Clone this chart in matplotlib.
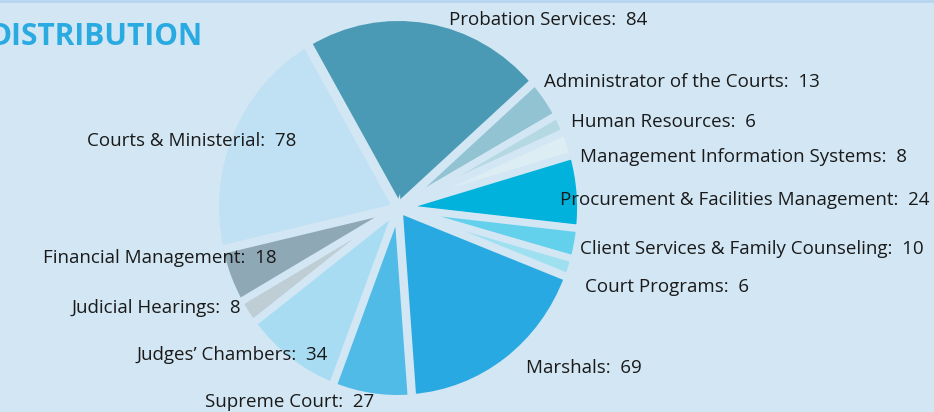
import matplotlib.pyplot as plt

departments = ["Probation Services", "Administrator of the Courts", "Human Resources",
               "Management Information Systems", "Procurement & Facilities Management",
               "Client Services & Family Counseling", "Court Programs", "Marshals",
               "Supreme Court", "Judges\u2019 Chambers", "Judicial Hearings",
               "Financial Management", "Courts & Ministerial"]
staff = [84, 13, 6, 8, 24, 10, 6, 69, 27, 34, 8, 18, 78]
colors = ["#4a9ab5", "#92c3d3", "#b5d9e3", "#dcedf3", "#00b2dc", "#63d0ec", "#9ee0f0",
          "#29a9e1", "#51bbe8", "#a7dcf3", "#bfcdd5", "#8fa8b5", "#c0e0f4"]

# label anchor positions in pixels (x, y from top) and alignment
label_pos = [(548, 20, "center"), (544, 82, "left"), (571, 122, "left"), (580, 157, "left"),
             (560, 200, "left"), (580, 249, "left"), (585, 287, "left"), (526, 368, "left"),
             (290, 402, "center"), (328, 355, "right"), (241, 308, "right"),
             (277, 258, "right"), (296, 141, "right")]

bg = "#d2e6f3"
W, H = 934, 412
fig = plt.figure(figsize=(W / 100, H / 100), dpi=100, facecolor=bg)
plt.rcParams['font.family'] = ['Open Sans', 'DejaVu Sans']

cx, cy, rx, ry = 398, 208, 184, 192
ax = fig.add_axes([(cx - rx) / W, (H - cy - ry) / H, 2 * rx / W, 2 * ry / H])
ax.pie(staff, colors=colors, startangle=120, counterclock=False,
       explode=[0.012] * len(staff),
       wedgeprops=dict(edgecolor=bg, linewidth=5))
ax.set_xlim(-1.02, 1.02)
ax.set_ylim(-1.02, 1.02)
ax.set_aspect("auto")
ax.axis("off")

tax = fig.add_axes([0, 0, 1, 1], facecolor="none")
tax.set_xlim(0, W)
tax.set_ylim(H, 0)
tax.axis("off")
tax.axhline(1, color="#b5d6ee", lw=2)

for name, val, (x, y, ha) in zip(departments, staff, label_pos):
    tax.text(x, y, f"{name}:  {val}", ha=ha, va="center", fontsize=13.5, color="#1a1a1a")

tax.text(203, 37, "DISTRIBUTION", ha="right", va="center", fontsize=21.5,
         fontweight="bold", color="#29abe2")

fig.savefig("out.png", dpi=100, facecolor=bg)
